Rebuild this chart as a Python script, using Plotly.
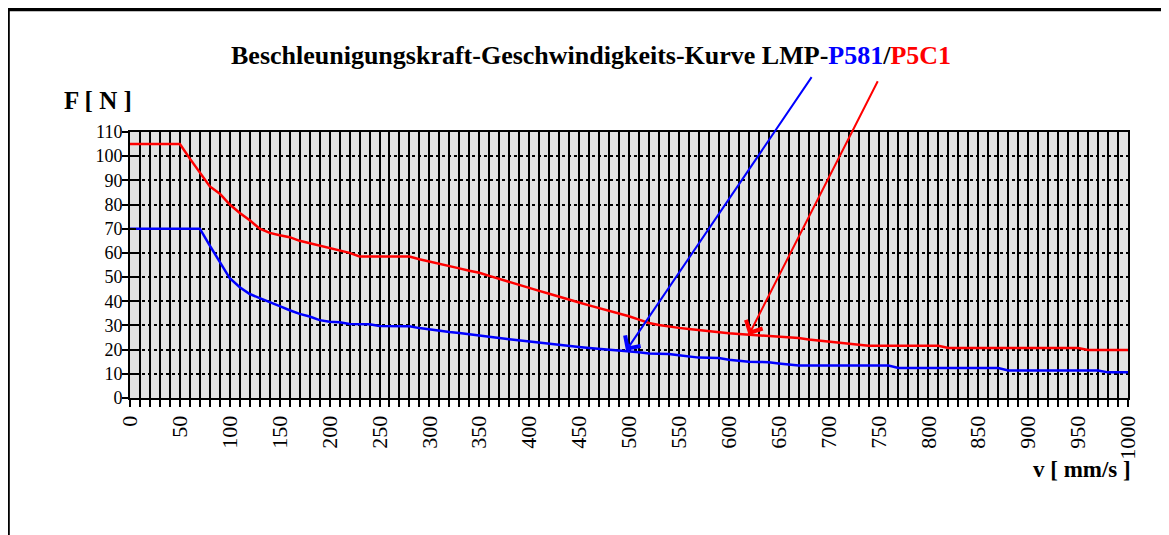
import plotly.graph_objects as go

# category axis: speed v [mm/s]
speed = list(range(0, 1001, 10))

# P5C1 (red) acceleration force [N]
force_p5c1 = [105, 105, 105, 105, 105, 105, 99, 93, 87.5, 84.5,
              80, 76.5, 73.5, 70, 68.3, 67.3, 66.5, 65, 64, 63.3,
              62, 61, 60, 58.5, 58.5, 58.5, 58.5, 58.5, 58.5, 57.4,
              56.5, 55.7, 54.6, 53.6, 52.6, 51.8, 50.5, 49.2, 48, 46.7,
              45.6, 44.3, 43.1, 42, 40.6, 39.5, 38.3, 37.2, 36.1, 35,
              33.8, 32.4, 31, 30.2, 29.5, 29, 28.5, 28, 27.5, 27.1,
              26.8, 26.5, 26.2, 26, 25.8, 25.4, 25, 24.8, 24.2, 23.8,
              23.3, 22.8, 22.4, 22, 21.6, 21.6, 21.6, 21.6, 21.6, 21.6,
              21.6, 21.6, 20.7, 20.7, 20.7, 20.7, 20.7, 20.7, 20.7, 20.7,
              20.7, 20.7, 20.7, 20.7, 20.7, 20.7, 19.9, 19.9, 19.9, 19.9,
              19.9]

# P581 (blue) acceleration force [N]
force_p581 = [70, 70, 70, 70, 70, 70, 70, 70, 63, 56,
              49.5, 45.8, 43, 41.3, 39.8, 38, 36.3, 34.8, 33.7, 32.2,
              31.5, 31.3, 30.6, 30.5, 30.5, 29.8, 29.7, 29.7, 29.7, 28.9,
              28.3, 27.8, 27.3, 26.9, 26.3, 25.8, 25.3, 24.8, 24.3, 23.8,
              23.3, 22.8, 22.3, 21.9, 21.6, 21.1, 20.7, 20.4, 20, 19.7,
              19.2, 18.9, 18.4, 18.3, 18.2, 17.7, 17.2, 16.7, 16.6, 16.5,
              15.8, 15.3, 15, 14.9, 14.8, 14.3, 13.7, 13.4, 13.4, 13.4,
              13.4, 13.4, 13.4, 13.4, 13.4, 13.4, 13.4, 12.4, 12.4, 12.4,
              12.4, 12.4, 12.4, 12.4, 12.4, 12.4, 12.4, 12.4, 11.4, 11.4,
              11.4, 11.4, 11.4, 11.4, 11.4, 11.4, 11.4, 11.4, 10.6, 10.6,
              10.6]

x_ticks = list(range(0, 1001, 50))
y_ticks = list(range(0, 111, 10))

title_text = ("<b>Beschleunigungskraft-Geschwindigkeits-Kurve LMP-"
              "<span style='color:#0000ff'>P581</span>/"
              "<span style='color:#ff0000'>P5C1</span></b>")

SERIF = "Liberation Serif"

fig = go.Figure()
fig.add_trace(go.Scatter(x=speed, y=force_p5c1, mode="lines",
                         line=dict(color="#ff0000", width=2.5),
                         name="P5C1", showlegend=False))
fig.add_trace(go.Scatter(x=speed, y=force_p581, mode="lines",
                         line=dict(color="#0000ff", width=2.5),
                         name="P581", showlegend=False))
# invisible trace to activate the overlay axes (inside tick halves)
fig.add_trace(go.Scatter(x=speed, y=force_p581, mode="lines",
                         line=dict(width=0), opacity=0, hoverinfo="skip",
                         xaxis="x2", yaxis="y2", showlegend=False))

fig.update_layout(
    width=1169, height=535,
    margin=dict(l=122, r=49, t=124, b=145),
    paper_bgcolor="white",
    plot_bgcolor="#e2e2e2",
    font=dict(family=SERIF, color="black"),
    xaxis=dict(
        range=[0, 1000], tickmode="array", tickvals=x_ticks,
        ticktext=[str(t) for t in x_ticks], tickangle=-90,
        tickfont=dict(size=22, family=SERIF),
        ticks="outside", ticklen=7, tickwidth=2, tickcolor="black",
        showgrid=True, gridcolor="black", gridwidth=2,
        minor=dict(dtick=10, ticks="outside", ticklen=7, tickwidth=2,
                   tickcolor="black", showgrid=True, gridcolor="black",
                   gridwidth=2),
        showline=True, linecolor="black", linewidth=2, mirror=True,
        zeroline=False,
    ),
    yaxis=dict(
        range=[0, 110], tickmode="array", tickvals=y_ticks,
        tickfont=dict(size=18, family=SERIF),
        ticks="outside", ticklen=6, tickwidth=2, tickcolor="black",
        ticklabelstandoff=-4,
        showgrid=True, gridcolor="black", gridwidth=2, griddash="dot",
        showline=True, linecolor="black", linewidth=2, mirror=True,
        zeroline=False,
    ),
    xaxis2=dict(
        overlaying="x", range=[0, 1000], side="bottom",
        showticklabels=False, showgrid=False, zeroline=False,
        tickmode="linear", tick0=0, dtick=10,
        ticks="inside", ticklen=6, tickwidth=2, tickcolor="black",
    ),
    yaxis2=dict(
        overlaying="y", range=[0, 110], side="left",
        showticklabels=False, showgrid=False, zeroline=False,
        tickmode="linear", tick0=0, dtick=10,
        ticks="inside", ticklen=6, tickwidth=2, tickcolor="black",
    ),
)

# title
fig.add_annotation(text=title_text, xref="paper", yref="paper",
                   x=0.462, y=1.286, xanchor="center", yanchor="middle",
                   showarrow=False, font=dict(size=26, family=SERIF, color="black"))
# axis titles
fig.add_annotation(text="<b>F [ N ]</b>", xref="paper", yref="paper",
                   x=-0.068, y=1.12, xanchor="left", yanchor="middle",
                   showarrow=False, font=dict(size=25, family=SERIF))
fig.add_annotation(text="<b>v [ mm/s ]</b>", xref="paper", yref="paper",
                   x=1.005, y=-0.27, xanchor="right", yanchor="middle",
                   showarrow=False, font=dict(size=23, family=SERIF))

# arrows from title to curves
fig.add_annotation(x=497, y=19.5, ax=684, ay=133.3, xref="x", yref="y",
                   axref="x", ayref="y", text="", showarrow=True,
                   arrowhead=4, arrowsize=1.8, arrowwidth=2, arrowcolor="#0000ff")
fig.add_annotation(x=620, y=26.0, ax=750, ay=131.6, xref="x", yref="y",
                   axref="x", ayref="y", text="", showarrow=True,
                   arrowhead=4, arrowsize=1.8, arrowwidth=2, arrowcolor="#ff0000")

# outer frame of the chart
fig.add_shape(type="rect", xref="paper", yref="paper",
              x0=-0.1222, x1=1.2, y0=-0.8, y1=1.4605,
              line=dict(color="black", width=3.5), fillcolor="rgba(0,0,0,0)",
              layer="above")

fig.write_html("out.html")
